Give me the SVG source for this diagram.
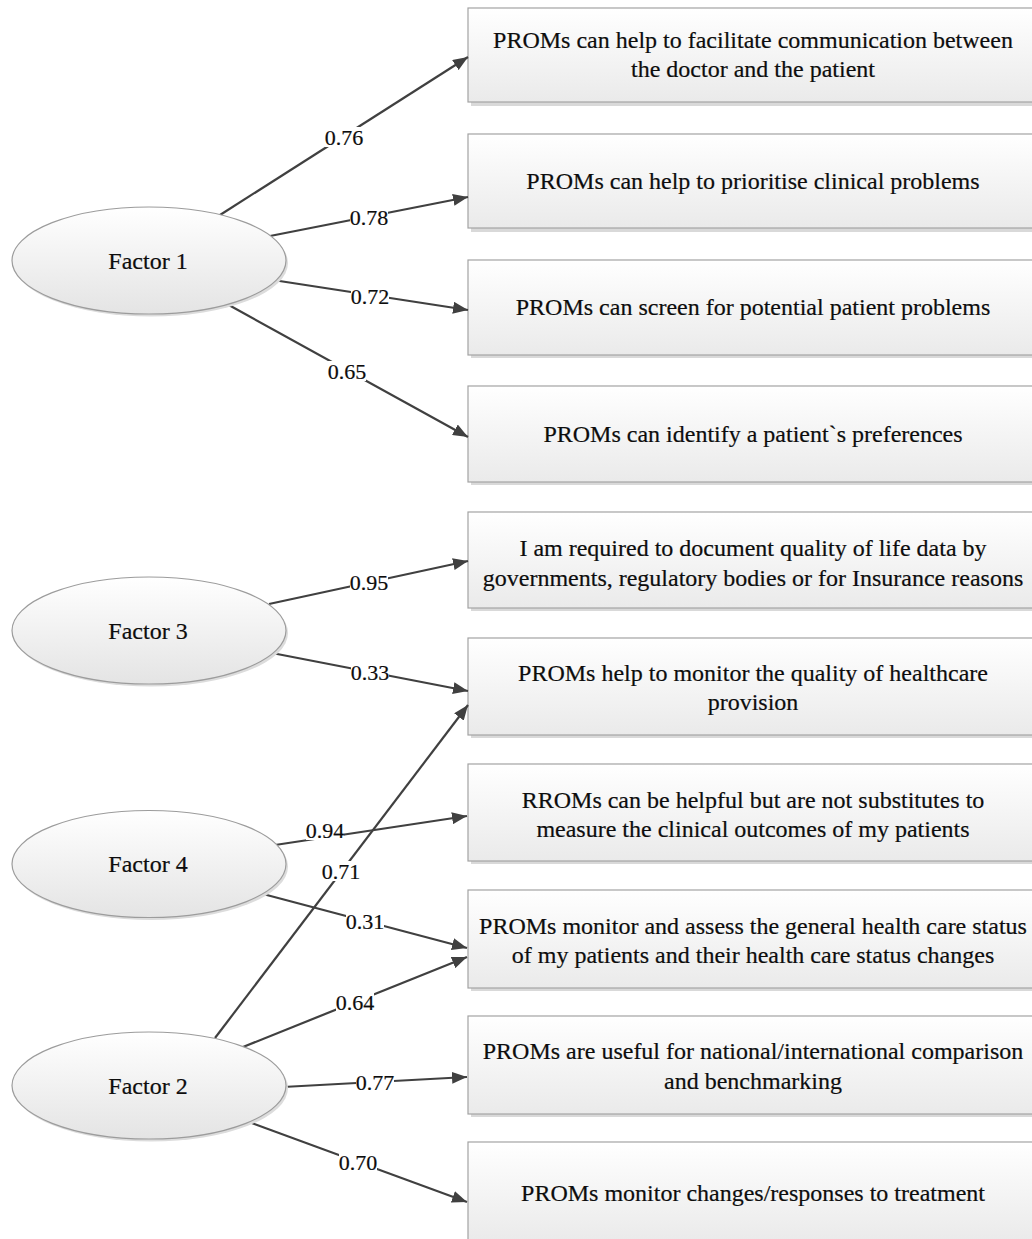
<svg xmlns="http://www.w3.org/2000/svg" width="1032" height="1239" viewBox="0 0 1032 1239">
<defs>
<linearGradient id="boxg" x1="0" y1="0" x2="0" y2="1">
<stop offset="0" stop-color="#ffffff"/>
<stop offset="1" stop-color="#eaeaea"/>
</linearGradient>
<linearGradient id="ellg" x1="0" y1="0" x2="0" y2="1">
<stop offset="0" stop-color="#ffffff"/>
<stop offset="1" stop-color="#e4e4e4"/>
</linearGradient>
<marker id="ah" markerWidth="15" markerHeight="12" refX="15" refY="6" orient="auto" markerUnits="userSpaceOnUse">
<path d="M0,0 L15,6 L0,12 z" fill="#404040"/>
</marker>
<style>
.box{fill:url(#boxg);stroke:#a3a3a3;stroke-width:1.2}
.shadow{fill:#d9d9d9}
.ell{fill:url(#ellg);stroke:#9c9c9c;stroke-width:1.2}
.eshadow{fill:#dcdcdc}
.t{font-family:'Liberation Serif','Times New Roman',serif;font-size:24px;fill:#0d0d0d;stroke:#0d0d0d;stroke-width:0.2;text-anchor:middle}
.lbl{font-family:'Liberation Serif','Times New Roman',serif;font-size:22px;fill:#0d0d0d;stroke:#0d0d0d;stroke-width:0.2;text-anchor:middle}
.c{stroke:#404040;stroke-width:2.2;fill:none;marker-end:url(#ah)}
.lb{fill:#ffffff}
</style>
</defs>
<rect width="1032" height="1239" fill="#ffffff"/>

<g id="boxes">
<g id="b1"><rect class="shadow" x="471" y="11" width="572" height="95"/><rect class="box" x="468" y="8" width="572" height="94"/>
<text class="t" x="753" y="48">PROMs can help to facilitate communication between</text><text class="t" x="753" y="77">the doctor and the patient</text></g>
<g id="b2"><rect class="shadow" x="471" y="137" width="572" height="95"/><rect class="box" x="468" y="134" width="572" height="94"/>
<text class="t" x="753" y="189">PROMs can help to prioritise clinical problems</text></g>
<g id="b3"><rect class="shadow" x="471" y="263" width="572" height="95"/><rect class="box" x="468" y="260" width="572" height="95"/>
<text class="t" x="753" y="315">PROMs can screen for potential patient problems</text></g>
<g id="b4"><rect class="shadow" x="471" y="389" width="572" height="96"/><rect class="box" x="468" y="386" width="572" height="96"/>
<text class="t" x="753" y="442">PROMs can identify a patient`s preferences</text></g>
<g id="b5"><rect class="shadow" x="471" y="515" width="572" height="96"/><rect class="box" x="468" y="512" width="572" height="96"/>
<text class="t" x="753" y="556">I am required to document quality of life data by</text><text class="t" x="753" y="586">governments, regulatory bodies or for Insurance reasons</text></g>
<g id="b6"><rect class="shadow" x="471" y="641" width="572" height="97"/><rect class="box" x="468" y="638" width="572" height="97"/>
<text class="t" x="753" y="681">PROMs help to monitor the quality of healthcare</text><text class="t" x="753" y="710">provision</text></g>
<g id="b7"><rect class="shadow" x="471" y="767" width="572" height="97"/><rect class="box" x="468" y="764" width="572" height="97"/>
<text class="t" x="753" y="808">RROMs can be helpful but are not substitutes to</text><text class="t" x="753" y="837">measure the clinical outcomes of my patients</text></g>
<g id="b8"><rect class="shadow" x="471" y="893" width="572" height="98"/><rect class="box" x="468" y="890" width="572" height="98"/>
<text class="t" x="753" y="934">PROMs monitor and assess the general health care status</text><text class="t" x="753" y="963">of my patients and their health care status changes</text></g>
<g id="b9"><rect class="shadow" x="471" y="1019" width="572" height="98"/><rect class="box" x="468" y="1016" width="572" height="98"/>
<text class="t" x="753" y="1059">PROMs are useful for national/international comparison</text><text class="t" x="753" y="1089">and benchmarking</text></g>
<g id="b10"><rect class="shadow" x="471" y="1145" width="572" height="100"/><rect class="box" x="468" y="1142" width="572" height="100"/>
<text class="t" x="753" y="1201">PROMs monitor changes/responses to treatment</text></g>
</g>

<g id="connectors">
<line class="c" x1="220" y1="215" x2="468" y2="57"/>
<line class="c" x1="270" y1="236" x2="468" y2="197"/>
<line class="c" x1="273" y1="280" x2="468" y2="310"/>
<line class="c" x1="227" y1="304" x2="468" y2="437"/>
<line class="c" x1="269" y1="604" x2="468" y2="561"/>
<line class="c" x1="272" y1="653" x2="468" y2="691"/>
<line class="c" x1="215" y1="1038" x2="468" y2="705"/>
<line class="c" x1="275" y1="845" x2="467" y2="816"/>
<line class="c" x1="263" y1="894" x2="467" y2="948"/>
<line class="c" x1="243" y1="1047" x2="467" y2="957"/>
<line class="c" x1="283" y1="1087" x2="467" y2="1077"/>
<line class="c" x1="249" y1="1122" x2="467" y2="1202"/>
<g id="labels">
<rect class="lb" x="325" y="127" width="38" height="20"/><text class="lbl" x="344" y="144.5">0.76</text>
<rect class="lb" x="350" y="207" width="38" height="20"/><text class="lbl" x="369" y="224.5">0.78</text>
<rect class="lb" x="351" y="286" width="38" height="20"/><text class="lbl" x="370" y="303.5">0.72</text>
<rect class="lb" x="328" y="361" width="38" height="20"/><text class="lbl" x="347" y="378.5">0.65</text>
<rect class="lb" x="350" y="572" width="38" height="20"/><text class="lbl" x="369" y="589.5">0.95</text>
<rect class="lb" x="351" y="662" width="38" height="20"/><text class="lbl" x="370" y="679.5">0.33</text>
<rect class="lb" x="306" y="820" width="38" height="20"/><text class="lbl" x="325" y="837.5">0.94</text>
<rect class="lb" x="322" y="861" width="38" height="20"/><text class="lbl" x="341" y="878.5">0.71</text>
<rect class="lb" x="346" y="911" width="38" height="20"/><text class="lbl" x="365" y="928.5">0.31</text>
<rect class="lb" x="336" y="992" width="38" height="20"/><text class="lbl" x="355" y="1009.5">0.64</text>
<rect class="lb" x="356" y="1072" width="38" height="20"/><text class="lbl" x="375" y="1089.5">0.77</text>
<rect class="lb" x="339" y="1152" width="38" height="20"/><text class="lbl" x="358" y="1169.5">0.70</text>
</g>
</g>

<g id="factors">
<g id="f1"><ellipse class="eshadow" cx="151" cy="263" rx="137" ry="53.5"/><ellipse class="ell" cx="149" cy="260.5" rx="137" ry="53.5"/><text class="t" x="148" y="268.5">Factor 1</text></g>
<g id="f3"><ellipse class="eshadow" cx="151" cy="633" rx="137" ry="53.5"/><ellipse class="ell" cx="149" cy="630.5" rx="137" ry="53.5"/><text class="t" x="148" y="638.5">Factor 3</text></g>
<g id="f4"><ellipse class="eshadow" cx="151" cy="866.5" rx="137" ry="53.5"/><ellipse class="ell" cx="149" cy="864" rx="137" ry="53.5"/><text class="t" x="148" y="872">Factor 4</text></g>
<g id="f2"><ellipse class="eshadow" cx="151" cy="1088" rx="137" ry="53.5"/><ellipse class="ell" cx="149" cy="1085.5" rx="137" ry="53.5"/><text class="t" x="148" y="1093.5">Factor 2</text></g>
</g>
</svg>
